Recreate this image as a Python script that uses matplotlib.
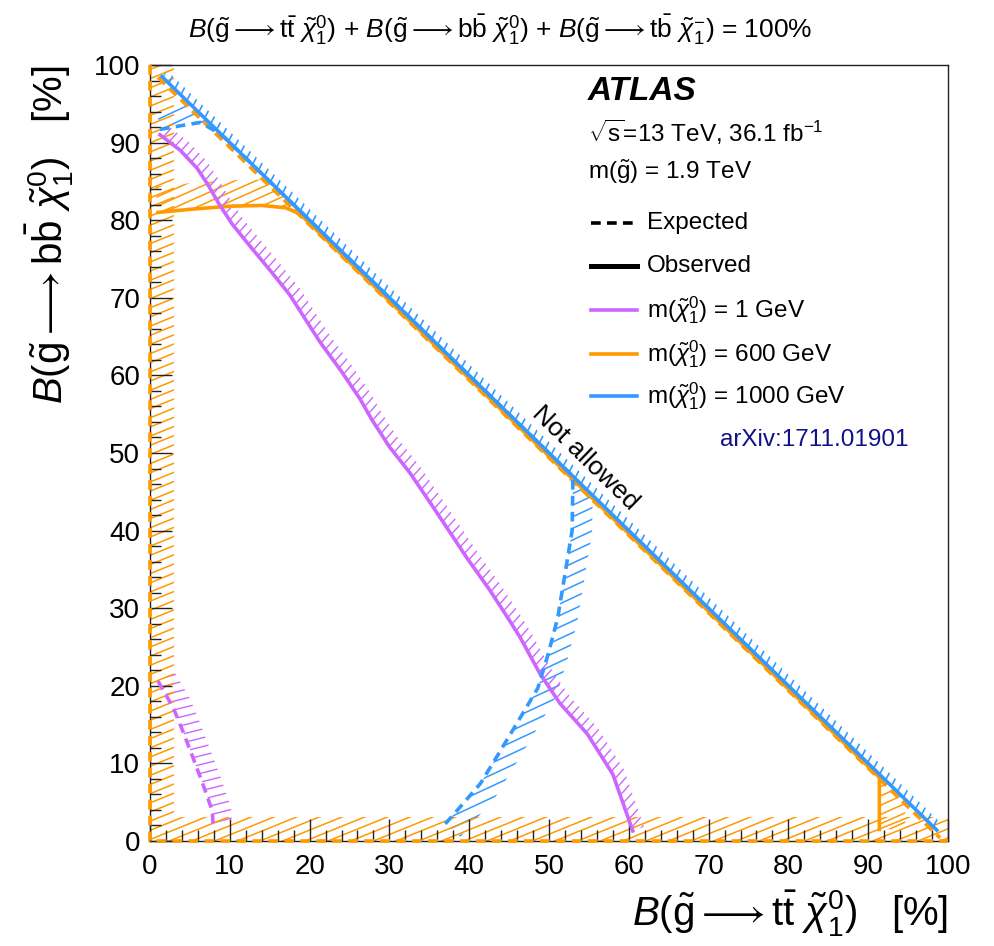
import numpy as np
import matplotlib
matplotlib.use('Agg')
import matplotlib.pyplot as plt
from matplotlib.collections import LineCollection
from matplotlib.patches import Polygon
from matplotlib.lines import Line2D
from matplotlib.ticker import MultipleLocator

plt.rcParams['font.family'] = ['Liberation Sans', 'DejaVu Sans']
plt.rcParams['mathtext.fontset'] = 'custom'
plt.rcParams['mathtext.rm'] = 'Liberation Sans'
plt.rcParams['mathtext.it'] = 'Liberation Sans:italic'
plt.rcParams['mathtext.bf'] = 'Liberation Sans:bold'
plt.rcParams['lines.scale_dashes'] = False

# ---------------- data (percent) ----------------
x_ticks = [0, 10, 20, 30, 40, 50, 60, 70, 80, 90, 100]
y_ticks = [0, 10, 20, 30, 40, 50, 60, 70, 80, 90, 100]

# m(chi) = 1 GeV
purple_obs_x = [1.25, 3.8, 5.9, 7.3, 8.7, 10.3, 12.5, 15.0, 17.5, 21.3, 24.0, 26.3, 27.8, 30.0,
                32.6, 35.5, 39.7, 42.6, 45.0, 46.4, 48.9, 51.4, 54.8, 58.0, 60.5]
purple_obs_y = [91.0, 89.0, 86.7, 84.5, 82.0, 79.5, 76.7, 73.6, 70.4, 64.3, 60.5, 57.0, 54.3, 50.8,
                47.4, 43.0, 36.5, 32.3, 28.5, 26.2, 21.5, 17.7, 13.8, 8.6, 1.3]
purple_exp_x = [1.0, 2.9, 4.1, 5.4, 6.6, 7.8, 7.9]
purple_exp_y = [20.6, 17.2, 14.2, 10.7, 7.4, 3.9, 2.2]

# m(chi) = 600 GeV
orange_obs_x = [1.0, 5.0, 10.0, 14.0, 17.0, 18.8, 91.4, 91.4]
orange_obs_y = [81.0, 81.4, 81.8, 81.9, 81.6, 80.8, 8.2, 1.5]
orange_exp_x = [0.0, 0.0, 100.0]
orange_exp_y = [100.0, 0.0, 0.0]
orange_exp_diag_x = [1.0, 99.0]
orange_exp_diag_y = [98.4, 0.4]

# m(chi) = 1000 GeV
blue_obs_x = [1.5, 98.6]
blue_obs_y = [98.5, 1.4]
blue_exp_x = [1.25, 4.0, 6.3, 8.0, 9.3, 53.0, 52.9, 52.0, 51.1, 49.9, 48.6, 46.4, 43.9, 41.4, 38.8, 37.0]
blue_exp_y = [91.7, 92.2, 92.6, 91.6, 90.7, 47.0, 40.0, 34.4, 28.8, 24.1, 19.7, 15.9, 11.6, 7.4, 4.3, 2.2]

not_allowed_x = [0, 100, 100]
not_allowed_y = [100, 0, 100]

PURPLE = '#CC66FF'
ORANGE = '#FF9900'
BLUE = '#3399FF'

# ---------------- figure ----------------
W, H = 995, 946
fig = plt.figure(figsize=(W / 100, H / 100), dpi=100)
ax = fig.add_axes([150 / W, 1 - 841 / H, 798 / W, 776 / H])
ax.set_xlim(0, 100)
ax.set_ylim(0, 100)
ax.set_axisbelow(False)


def px(x, y):
    return (x / W, 1 - y / H)


def hatch_band(xs, ys, width, angle, spacing, color, lw, z):
    T = ax.transData
    P = T.transform(np.column_stack([xs, ys]))
    D = np.diff(P, axis=0)
    D /= np.hypot(D[:, 0], D[:, 1])[:, None]
    N = np.column_stack([-D[:, 1], D[:, 0]])
    V = np.empty_like(P)
    V[0] = N[0]
    V[-1] = N[-1]
    if len(P) > 2:
        S = N[:-1] + N[1:]
        S /= np.hypot(S[:, 0], S[:, 1])[:, None]
        cosang = np.sum(S * N[1:], axis=1)
        V[1:-1] = S / np.clip(cosang, 0.3, None)[:, None]
    O = P + width * V
    band = np.vstack([P, O[::-1]])
    a = np.radians(angle)
    u = np.array([np.cos(a), np.sin(a)])
    n = np.array([-np.sin(a), np.cos(a)])
    pn = band @ n
    pu = band @ u
    ks = np.arange(np.floor(pn.min() / spacing), np.ceil(pn.max() / spacing) + 1)
    inv = T.inverted()
    segs = []
    for k in ks:
        c = k * spacing
        p0 = c * n + (pu.min() - 5) * u
        p1 = c * n + (pu.max() + 5) * u
        segs.append(inv.transform(np.array([p0, p1])))
    lc = LineCollection(segs, colors=color, linewidths=lw, zorder=z, capstyle='butt')
    poly = Polygon(inv.transform(band), closed=True, transform=T)
    ax.add_collection(lc, autolim=False)
    lc.set_clip_path(poly)


# hatches hidden by the kinematically forbidden region
hatch_band(orange_obs_x, orange_obs_y, 26, 24, 8.5, ORANGE, 1.1, 1.2)
hatch_band(blue_exp_x, blue_exp_y, 20, 25, 10.5, BLUE, 1.1, 1.2)
hatch_band(purple_obs_x, purple_obs_y, 12, 48, 7.5, PURPLE, 1.0, 1.2)
hatch_band(purple_exp_x, purple_exp_y, 19, 14, 8.5, PURPLE, 1.0, 1.2)

ax.add_patch(Polygon(np.column_stack([not_allowed_x, not_allowed_y]), closed=True,
                     facecolor='white', edgecolor='none', zorder=1.5))

hatch_band(orange_exp_x, orange_exp_y, 24, 22, 8.5, ORANGE, 1.1, 1.6)
hatch_band(blue_obs_x, blue_obs_y, 8, 62, 8.0, BLUE, 1.2, 1.7)

dash = (0, (7, 4.5))
ax.plot(orange_exp_x, orange_exp_y, color=ORANGE, lw=2.6, ls=dash, zorder=3.0, clip_on=False)
ax.plot(orange_exp_diag_x, orange_exp_diag_y, color=ORANGE, lw=2.6, ls=dash, zorder=3.0)
ax.plot(orange_obs_x, orange_obs_y, color=ORANGE, lw=2.6, zorder=3.1, solid_joinstyle='round')
ax.plot(purple_exp_x, purple_exp_y, color=PURPLE, lw=2.6, ls=dash, zorder=3.2)
ax.plot(purple_obs_x, purple_obs_y, color=PURPLE, lw=2.6, zorder=3.2, solid_joinstyle='round')
ax.plot(blue_exp_x, blue_exp_y, color=BLUE, lw=2.6, ls=dash, zorder=3.3)
ax.plot(blue_obs_x, blue_obs_y, color=BLUE, lw=2.6, zorder=3.4)

# axes styling
ax.set_xticks(x_ticks)
ax.set_yticks(y_ticks)
ax.xaxis.set_minor_locator(MultipleLocator(2))
ax.yaxis.set_minor_locator(MultipleLocator(2))
ax.tick_params(which='both', direction='in', top=False, right=False, width=1.0, color='#222222')
ax.tick_params(which='major', length=16, labelsize=20)
ax.tick_params(axis='x', which='major', pad=9)
ax.tick_params(axis='y', which='major', pad=7)
ax.tick_params(which='minor', length=8)
for s in ax.spines.values():
    s.set_linewidth(1.0)
    s.set_color('#222222')

# "Not allowed"
T = ax.transData
p0 = T.transform((0, 100))
p1 = T.transform((100, 0))
ang = np.degrees(np.arctan2(p1[1] - p0[1], p1[0] - p0[0]))
ax.text(54.6, 49.4, 'Not allowed', rotation=ang, rotation_mode='anchor', ha='center', va='center',
        fontsize=19, zorder=5)

# titles / labels
chi0 = r'\tilde{\chi}^{0}_{1}'
arr = r'\longrightarrow'
fig.text(*px(500, 30),
         r'$\mathit{B}(\tilde{\mathrm{g}}' + arr + r'\mathrm{t}\bar{\mathrm{t}}\ ' + chi0 + r')$ + '
         r'$\mathit{B}(\tilde{\mathrm{g}}' + arr + r'\mathrm{b}\bar{\mathrm{b}}\ ' + chi0 + r')$ + '
         r'$\mathit{B}(\tilde{\mathrm{g}}' + arr + r'\mathrm{t}\bar{\mathrm{b}}\ \tilde{\chi}^{-}_{1})$ = 100%',
         ha='center', va='center', fontsize=19)
fig.text(*px(948, 913),
         r'$\mathit{B}(\tilde{\mathrm{g}}' + arr + r'\mathrm{t}\bar{\mathrm{t}}\ ' + chi0 + r')$   [%]',
         ha='right', va='center', fontsize=29)
fig.text(*px(50, 65),
         r'$\mathit{B}(\tilde{\mathrm{g}}' + arr + r'\mathrm{b}\bar{\mathrm{b}}\ ' + chi0 + r')$   [%]',
         ha='center', va='top', rotation=90, fontsize=29)

# legend block
fig.text(*px(588, 91), 'ATLAS', fontsize=24, fontweight='bold', fontstyle='italic', va='center', ha='left')
fig.text(*px(588, 132), r'$\sqrt{\mathrm{s}}$=13 TeV, 36.1 fb$^{-1}$', fontsize=17.5, va='center', ha='left')
fig.text(*px(588, 172), r'm($\tilde{\mathrm{g}}$) = 1.9 TeV', fontsize=17.5, va='center', ha='left')

leg_rows = [
    ('Expected', 'black', dash, 2.6, 223),
    ('Observed', 'black', '-', 3.6, 266),
    (r'm($' + chi0 + r'$) = 1 GeV', PURPLE, '-', 2.6, 310),
    (r'm($' + chi0 + r'$) = 600 GeV', ORANGE, '-', 2.6, 354),
    (r'm($' + chi0 + r'$) = 1000 GeV', BLUE, '-', 2.6, 396),
]
for label, col, ls, lw, yy in leg_rows:
    x0, y0 = px(591, yy)
    x1, _ = px(637, yy)
    fig.add_artist(Line2D([x0, x1], [y0, y0], color=col, ls=ls, lw=lw, transform=fig.transFigure))
    fig.text(*px(647, yy), label, fontsize=17.5, va='center', ha='left')

fig.text(*px(720, 440), 'arXiv:1711.01901', fontsize=17.5, color='#10108A', va='center', ha='left')

fig.savefig('out.png', dpi=100)
